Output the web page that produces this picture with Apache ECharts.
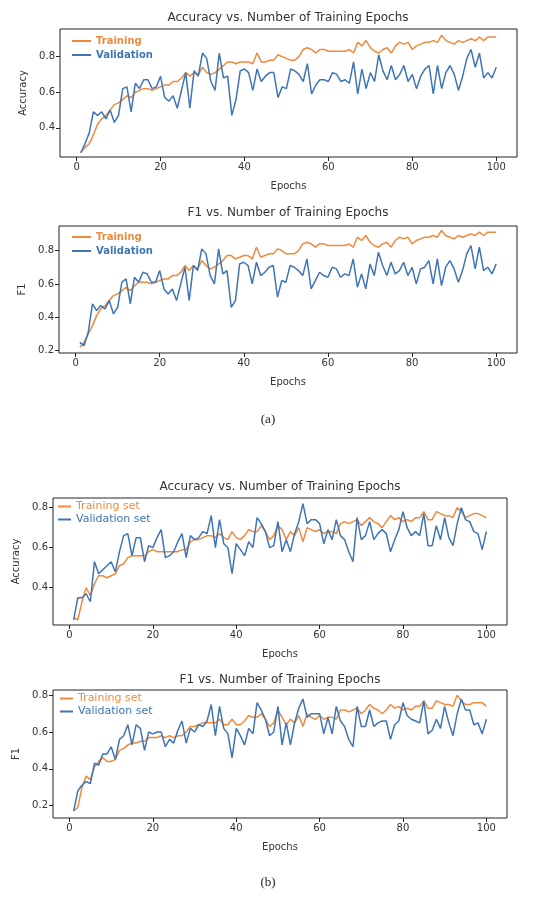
<!DOCTYPE html>
<html>
<head>
<meta charset="utf-8">
<script src="https://cdn.jsdelivr.net/npm/echarts@6/dist/echarts.min.js"></script>
<style>
  html, body { margin: 0; padding: 0; background: #fff; }
  #chart { width: 536px; height: 898px; }
</style>
</head>
<body>
<div id="chart"></div>
<script>
// epochs 1..100
var epochs = [];
for (var i = 1; i <= 100; i++) epochs.push(i);

var xTicks = [0, 20, 40, 60, 80, 100];
var yTicksA_acc = [0.4, 0.6, 0.8];
var yTicksA_f1 = [0.2, 0.4, 0.6, 0.8];
var yTicksB_acc = [0.4, 0.6, 0.8];
var yTicksB_f1 = [0.2, 0.4, 0.6, 0.8];

// (a) accuracy
var aAccTrain = [0.26,0.29,0.31,0.36,0.42,0.45,0.47,0.50,0.53,0.54,0.56,0.58,0.57,0.60,0.61,0.62,0.62,0.61,0.62,0.63,
  0.64,0.64,0.66,0.66,0.68,0.71,0.69,0.71,0.70,0.74,0.71,0.70,0.71,0.73,0.75,0.77,0.77,0.76,0.77,0.77,
  0.77,0.76,0.82,0.77,0.77,0.78,0.78,0.81,0.80,0.79,0.78,0.78,0.80,0.84,0.85,0.84,0.82,0.84,0.84,0.83,
  0.83,0.83,0.83,0.83,0.84,0.82,0.88,0.86,0.89,0.85,0.83,0.82,0.84,0.85,0.82,0.86,0.88,0.87,0.88,0.84,
  0.86,0.87,0.88,0.88,0.89,0.88,0.92,0.89,0.88,0.87,0.89,0.88,0.89,0.90,0.89,0.91,0.89,0.91,0.91,0.91];
var aAccVal = [0.26,0.31,0.37,0.49,0.47,0.49,0.45,0.50,0.43,0.47,0.62,0.63,0.49,0.65,0.62,0.67,0.67,0.62,0.63,0.69,
  0.57,0.55,0.58,0.51,0.61,0.71,0.51,0.72,0.69,0.82,0.79,0.66,0.61,0.82,0.68,0.69,0.47,0.56,0.72,0.73,
  0.71,0.61,0.73,0.66,0.69,0.71,0.71,0.57,0.63,0.62,0.73,0.72,0.70,0.66,0.76,0.59,0.64,0.67,0.67,0.66,
  0.71,0.70,0.66,0.67,0.65,0.77,0.59,0.73,0.62,0.71,0.66,0.81,0.72,0.67,0.75,0.67,0.70,0.75,0.66,0.70,
  0.62,0.69,0.73,0.75,0.59,0.75,0.62,0.71,0.75,0.70,0.61,0.69,0.79,0.84,0.74,0.82,0.68,0.71,0.68,0.74];

// (a) F1
var aF1Train = [0.22,0.25,0.30,0.35,0.41,0.45,0.47,0.50,0.53,0.54,0.56,0.58,0.56,0.59,0.61,0.61,0.61,0.60,0.61,0.62,
  0.63,0.63,0.65,0.65,0.67,0.71,0.68,0.71,0.69,0.74,0.71,0.69,0.70,0.72,0.74,0.77,0.77,0.75,0.76,0.77,
  0.77,0.75,0.82,0.76,0.77,0.78,0.78,0.81,0.80,0.78,0.78,0.78,0.80,0.84,0.85,0.84,0.82,0.84,0.84,0.83,
  0.83,0.83,0.83,0.83,0.84,0.82,0.88,0.86,0.89,0.85,0.83,0.82,0.84,0.85,0.82,0.86,0.88,0.87,0.88,0.84,
  0.86,0.87,0.88,0.88,0.89,0.88,0.92,0.89,0.88,0.87,0.89,0.88,0.89,0.90,0.89,0.91,0.89,0.91,0.91,0.91];
var aF1Val = [0.25,0.23,0.31,0.48,0.44,0.47,0.45,0.50,0.42,0.46,0.61,0.63,0.48,0.64,0.61,0.67,0.66,0.61,0.61,0.68,
  0.57,0.54,0.57,0.50,0.60,0.70,0.50,0.71,0.68,0.81,0.78,0.65,0.60,0.81,0.66,0.68,0.46,0.50,0.72,0.73,
  0.71,0.60,0.73,0.65,0.67,0.70,0.71,0.52,0.62,0.61,0.71,0.70,0.68,0.65,0.75,0.57,0.62,0.67,0.65,0.64,
  0.70,0.69,0.64,0.66,0.65,0.75,0.58,0.66,0.57,0.72,0.65,0.79,0.71,0.65,0.73,0.66,0.68,0.73,0.65,0.70,
  0.60,0.69,0.70,0.74,0.60,0.75,0.59,0.70,0.74,0.69,0.61,0.68,0.78,0.83,0.69,0.82,0.68,0.70,0.66,0.72];

// (b) accuracy
var bAccTrain = [0.25,0.24,0.33,0.40,0.36,0.42,0.46,0.46,0.45,0.46,0.47,0.51,0.52,0.55,0.56,0.56,0.56,0.56,0.58,0.59,
  0.58,0.58,0.58,0.58,0.58,0.58,0.59,0.59,0.63,0.64,0.64,0.65,0.66,0.66,0.65,0.67,0.65,0.64,0.68,0.65,
  0.64,0.66,0.69,0.68,0.68,0.71,0.68,0.64,0.66,0.71,0.69,0.64,0.68,0.66,0.70,0.63,0.70,0.69,0.68,0.69,
  0.67,0.68,0.68,0.67,0.72,0.73,0.72,0.73,0.74,0.71,0.73,0.75,0.73,0.72,0.70,0.73,0.76,0.74,0.75,0.73,
  0.74,0.73,0.75,0.75,0.78,0.74,0.74,0.78,0.77,0.76,0.76,0.75,0.80,0.78,0.75,0.76,0.77,0.77,0.76,0.75];
var bAccVal = [0.24,0.35,0.35,0.37,0.33,0.53,0.47,0.49,0.51,0.53,0.48,0.58,0.66,0.67,0.56,0.65,0.65,0.53,0.61,0.60,
  0.65,0.69,0.55,0.56,0.58,0.63,0.67,0.55,0.66,0.64,0.65,0.68,0.67,0.76,0.60,0.74,0.62,0.60,0.47,0.62,
  0.59,0.56,0.63,0.60,0.75,0.72,0.68,0.60,0.61,0.73,0.58,0.64,0.58,0.67,0.73,0.82,0.72,0.74,0.74,0.72,
  0.62,0.69,0.64,0.74,0.66,0.64,0.58,0.53,0.75,0.64,0.66,0.73,0.64,0.67,0.69,0.67,0.58,0.64,0.69,0.78,
  0.70,0.66,0.68,0.66,0.77,0.61,0.61,0.71,0.64,0.75,0.65,0.61,0.72,0.80,0.74,0.73,0.68,0.67,0.59,0.68];

// (b) F1
var bF1Train = [0.17,0.19,0.30,0.36,0.34,0.41,0.44,0.46,0.44,0.44,0.45,0.50,0.51,0.53,0.54,0.54,0.55,0.55,0.57,0.57,
  0.57,0.58,0.57,0.58,0.57,0.58,0.58,0.60,0.63,0.63,0.64,0.65,0.65,0.65,0.65,0.67,0.64,0.64,0.67,0.64,
  0.64,0.66,0.69,0.68,0.68,0.70,0.67,0.63,0.65,0.72,0.68,0.64,0.67,0.65,0.69,0.63,0.70,0.68,0.67,0.69,
  0.67,0.68,0.68,0.67,0.72,0.72,0.71,0.72,0.73,0.70,0.72,0.75,0.73,0.72,0.70,0.72,0.75,0.73,0.74,0.72,
  0.73,0.72,0.74,0.74,0.77,0.73,0.73,0.77,0.76,0.75,0.75,0.74,0.80,0.77,0.75,0.75,0.76,0.76,0.76,0.74];
var bF1Val = [0.17,0.28,0.31,0.33,0.32,0.43,0.42,0.48,0.48,0.52,0.45,0.56,0.58,0.64,0.53,0.64,0.62,0.50,0.60,0.59,
  0.60,0.60,0.52,0.56,0.54,0.61,0.66,0.54,0.62,0.60,0.64,0.63,0.66,0.75,0.58,0.74,0.62,0.59,0.46,0.62,
  0.58,0.53,0.62,0.59,0.76,0.72,0.67,0.58,0.60,0.74,0.53,0.65,0.53,0.65,0.73,0.78,0.68,0.70,0.70,0.70,
  0.59,0.68,0.59,0.74,0.66,0.63,0.56,0.52,0.74,0.63,0.63,0.72,0.63,0.65,0.66,0.66,0.56,0.64,0.66,0.76,
  0.69,0.67,0.66,0.65,0.77,0.59,0.61,0.67,0.62,0.74,0.65,0.58,0.70,0.78,0.72,0.72,0.64,0.65,0.59,0.67];

var ORANGE = '#ef8a3c';
var BLUE = '#3f74b5';
var TXT = '#333';
var FONT = 'DejaVu Sans';

function pairs(ys) {
  return epochs.map(function (e, k) { return [e, ys[k]]; });
}

// panel layout
var panels = [
  { grid: { left: 60, top: 29, width: 457, height: 128 }, ymin: 0.236, ymax: 0.955, yt: yTicksA_acc, yname: 'Accuracy',
    title: 'Accuracy vs. Number of Training Epochs', tx: 288, ty: 18,
    names: ['Training', 'Validation'], tr: aAccTrain, va: aAccVal, leg: { left: 72, top: 36 }, legBig: false },
  { grid: { left: 59, top: 226, width: 458, height: 127 }, ymin: 0.186, ymax: 0.947, yt: yTicksA_f1, yname: 'F1',
    title: 'F1 vs. Number of Training Epochs', tx: 288, ty: 213,
    names: ['Training', 'Validation'], tr: aF1Train, va: aF1Val, leg: { left: 72, top: 232 }, legBig: false },
  { grid: { left: 53, top: 498, width: 454, height: 127 }, ymin: 0.214, ymax: 0.848, yt: yTicksB_acc, yname: 'Accuracy',
    title: 'Accuracy vs. Number of Training Epochs', tx: 280, ty: 487,
    names: ['Training set', 'Validation set'], tr: bAccTrain, va: bAccVal, leg: { left: 58, top: 501 }, legBig: true },
  { grid: { left: 53, top: 690, width: 454, height: 128 }, ymin: 0.132, ymax: 0.829, yt: yTicksB_f1, yname: 'F1',
    title: 'F1 vs. Number of Training Epochs', tx: 280, ty: 680,
    names: ['Training set', 'Validation set'], tr: bF1Train, va: bF1Val, leg: { left: 60, top: 693 }, legBig: true }
];

var option = {
  animation: false,
  backgroundColor: '#fff',
  grid: [], xAxis: [], yAxis: [], series: [], legend: [], graphic: []
};

panels.forEach(function (p, idx) {
  option.grid.push({
    left: p.grid.left, top: p.grid.top, width: p.grid.width, height: p.grid.height,
    show: true, borderColor: '#222', borderWidth: 1, backgroundColor: 'transparent'
  });
  option.xAxis.push({
    type: 'value', gridIndex: idx, min: -3.95, max: 104.95, position: 'bottom',
    name: 'Epochs', nameLocation: 'middle', nameGap: 24,
    nameTextStyle: { fontFamily: FONT, fontSize: 10, color: TXT },
    axisLine: { show: false, onZero: false },
    axisTick: { show: true, length: 4, lineStyle: { color: '#222' }, customValues: xTicks },
    axisLabel: { fontFamily: FONT, fontSize: 10, color: TXT, margin: 5, customValues: xTicks },
    splitLine: { show: false }
  });
  option.yAxis.push({
    type: 'value', gridIndex: idx, min: p.ymin, max: p.ymax, position: 'left',
    name: p.yname, nameLocation: 'middle', nameGap: 30,
    nameTextStyle: { fontFamily: FONT, fontSize: 10, color: TXT },
    axisLine: { show: false, onZero: false },
    axisTick: { show: true, length: 4, lineStyle: { color: '#222' }, customValues: p.yt },
    axisLabel: {
      fontFamily: FONT, fontSize: 10, color: TXT, margin: 5, customValues: p.yt,
      formatter: function (v) { return v.toFixed(1); }
    },
    splitLine: { show: false }
  });
  option.series.push({
    type: 'line', name: p.names[0], xAxisIndex: idx, yAxisIndex: idx,
    data: pairs(p.tr), showSymbol: false, symbol: 'none',
    lineStyle: { color: ORANGE, width: 1.5 }, itemStyle: { color: ORANGE }
  });
  option.series.push({
    type: 'line', name: p.names[1], xAxisIndex: idx, yAxisIndex: idx,
    data: pairs(p.va), showSymbol: false, symbol: 'none',
    lineStyle: { color: BLUE, width: 1.5 }, itemStyle: { color: BLUE }
  });
  option.legend.push({
    orient: 'vertical', left: p.leg.left, top: p.leg.top,
    icon: 'rect', itemWidth: p.legBig ? 13 : 19, itemHeight: 2, itemGap: p.legBig ? 2 : 4,
    selectedMode: false, padding: 0,
    textStyle: { fontFamily: FONT, fontSize: p.legBig ? 11 : 10, fontWeight: p.legBig ? 'normal' : 'bold' },
    data: [
      { name: p.names[0], textStyle: { color: ORANGE } },
      { name: p.names[1], textStyle: { color: BLUE } }
    ]
  });
  option.graphic.push({
    type: 'text', x: p.tx, y: p.ty,
    style: { text: p.title, fontFamily: FONT, fontSize: 12, fill: TXT, align: 'center', verticalAlign: 'middle' }
  });
});

option.graphic.push({
  type: 'text', x: 268, y: 420,
  style: { text: '(a)', fontFamily: 'Liberation Serif', fontSize: 13, fill: '#222', align: 'center', verticalAlign: 'middle' }
});
option.graphic.push({
  type: 'text', x: 268, y: 883,
  style: { text: '(b)', fontFamily: 'Liberation Serif', fontSize: 13, fill: '#222', align: 'center', verticalAlign: 'middle' }
});

var chart = echarts.init(document.getElementById('chart'), null, { renderer: 'canvas' });
chart.setOption(option);
</script>
</body>
</html>
